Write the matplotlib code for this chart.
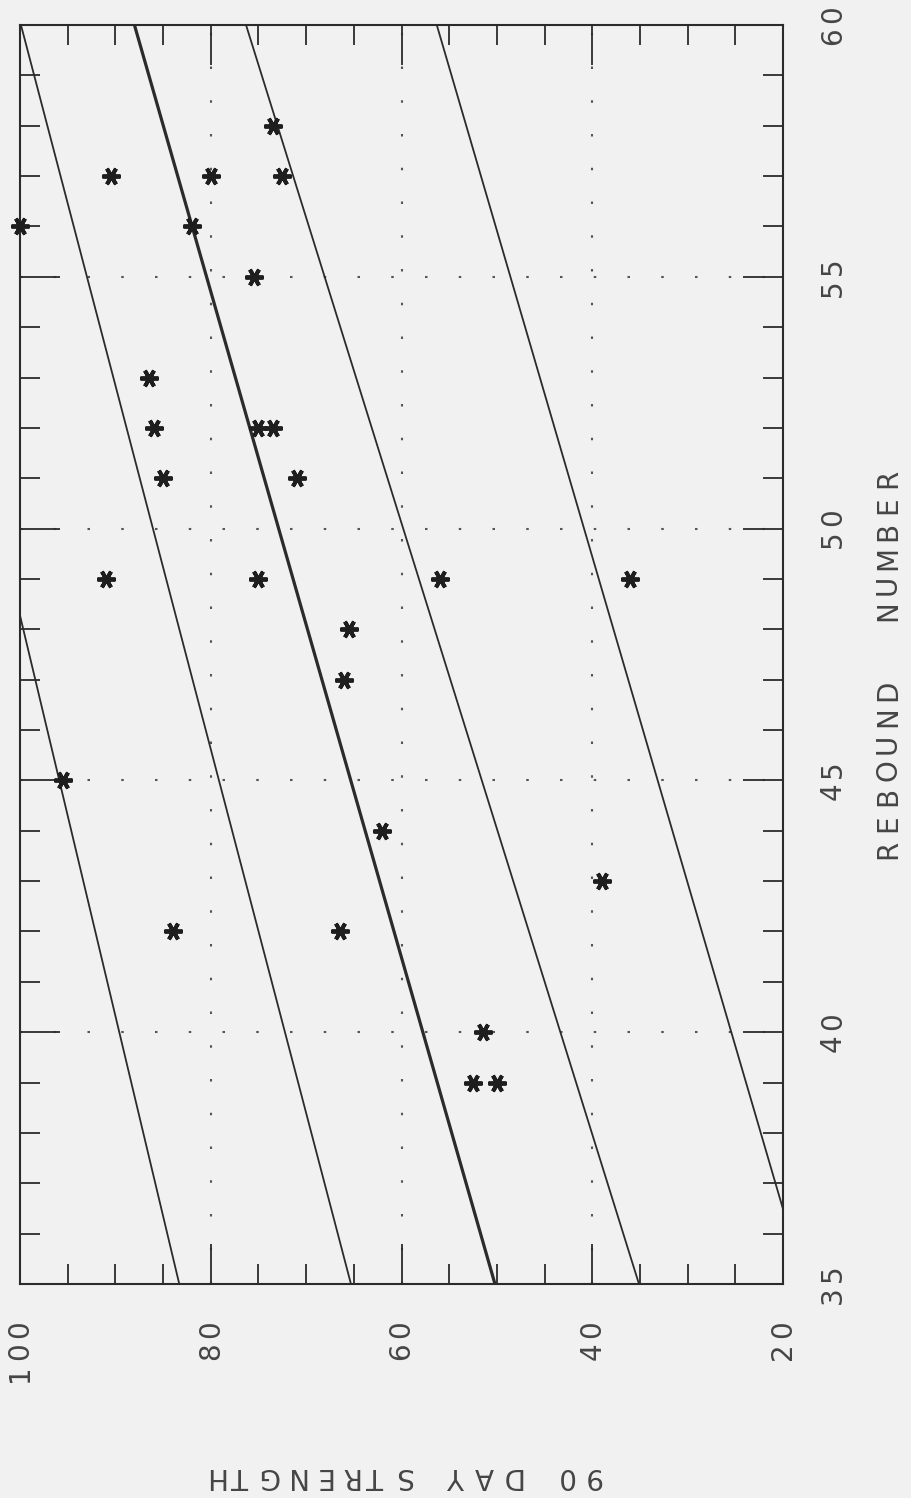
import matplotlib
matplotlib.use("Agg")
import numpy as np
import matplotlib.pyplot as plt
from matplotlib.ticker import MultipleLocator
from matplotlib.transforms import offset_copy

# measured points: rebound number vs 90 day strength
rebound = [56, 57, 57, 57, 58, 56, 55, 53, 52, 51, 52, 52, 51, 49, 49,
           48, 47, 49, 49, 45, 44, 42, 42, 43, 40, 39, 39]
strength = [100, 90.5, 80, 72.5, 73.5, 82, 75.5, 86.5, 86, 85, 75, 73.5, 71, 91, 75,
            65.5, 66, 56, 36, 95.5, 62, 84, 66.5, 39, 51.5, 52.5, 50]

# straight lines, strength at rebound 35 and at rebound 60
line_r = [35, 60]
line_lo = [83.3, 65.3, 50.2, 35.1, 17.7]
line_hi = [114.75, 99.9, 88.0, 76.3, 56.3]
line_w = [1.3, 1.3, 2.3, 1.3, 1.3]

grid_strength = [80, 60, 40]
grid_rebound = [40, 45, 50, 55]

strength_ticks = [100, 80, 60, 40, 20]
rebound_ticks = [35, 40, 45, 50, 55, 60]

bg = '#f1f1f1'
ink = '#2b2b2b'
txt = '#454545'
font = dict(family=['DejaVu Sans'], color=txt)


def plotter_text(fig, trans, s, pitch, rot, anchor='center', size=20):
    # plotter style lettering: one glyph per fixed step along the reading direction
    n = len(s)
    if anchor == 'center':
        start = -(n - 1) / 2 * pitch
    else:  # 'end' -> last glyph sits at the anchor point
        start = -(n - 1) * pitch
    for i, ch in enumerate(s):
        d = start + i * pitch
        if rot == 90:
            dx, dy = 0, d
        else:  # 180, reads right to left
            dx, dy = -d, 0
        t = offset_copy(trans, fig=fig, x=dx, y=dy, units='dots')
        fig.text(0, 0, ch, transform=t, rotation=rot, ha='center', va='center',
                 fontsize=size, **font)


def main():
    fig = plt.figure(figsize=(9.11, 14.98), dpi=100, facecolor=bg)
    # plot is drawn turned on its side: strength runs right->left, rebound bottom->top
    ax = fig.add_axes([20 / 911, 1 - 1284 / 1498, 763 / 911, 1259 / 1498])
    ax.set_facecolor(bg)

    for s in grid_strength:
        ax.axvline(s, color='#555555', lw=1.5, ls=(0, (1.2, 15)), zorder=1)
    for r in grid_rebound:
        ax.axhline(r, color='#555555', lw=1.5, ls=(0, (1.2, 15)), zorder=1)

    for lo, hi, w in zip(line_lo, line_hi, line_w):
        ax.plot([lo, hi], line_r, color=ink, lw=w, zorder=2)

    ax.plot(strength, rebound, ls='none', marker=(6, 2, 90), ms=13, mew=2.8,
            color='#1e1e1e', zorder=3, clip_on=False)

    ax.set_xlim(100, 20)
    ax.set_ylim(35, 60)

    for sp in ax.spines.values():
        sp.set_color(ink)
        sp.set_linewidth(1.5)

    ax.xaxis.set_major_locator(MultipleLocator(20))
    ax.xaxis.set_minor_locator(MultipleLocator(5))
    ax.yaxis.set_major_locator(MultipleLocator(5))
    ax.yaxis.set_minor_locator(MultipleLocator(1))

    ax.tick_params(axis='both', which='both', direction='in', color=ink,
                   top=True, bottom=True, left=True, right=True, width=1.3,
                   labelbottom=False, labelleft=False)
    ax.tick_params(axis='both', which='major', length=29)
    ax.tick_params(axis='both', which='minor', length=14.5)

    # strength labels under the bottom edge, read bottom to top
    for v in strength_ticks:
        xs = ax.transData.transform((v, 35))[0]
        ys = ax.transAxes.transform((0, 0))[1] - 45
        tr = offset_copy(fig.transFigure, fig=fig, x=xs, y=ys, units='dots')
        plotter_text(fig, tr, str(v), 22, 90, anchor='end')

    # rebound labels right of the plot
    for v in rebound_ticks:
        xs = ax.transAxes.transform((1, 0))[0] + 50
        ys = ax.transData.transform((60, v))[1]
        tr = offset_copy(fig.transFigure, fig=fig, x=xs, y=ys, units='dots')
        plotter_text(fig, tr, str(v), 22, 90)

    # axis titles
    tr = offset_copy(fig.transFigure, fig=fig, x=888, y=1498 - 664, units='dots')
    plotter_text(fig, tr, 'REBOUND  NUMBER', 26.5, 90, size=20)
    tr = offset_copy(fig.transFigure, fig=fig, x=403, y=1498 - 1476, units='dots')
    plotter_text(fig, tr, '90 DAY STRENGTH', 27, 180, size=20)

    fig.savefig('out.png', dpi=100, facecolor=bg)


if __name__ == '__main__':
    main()
